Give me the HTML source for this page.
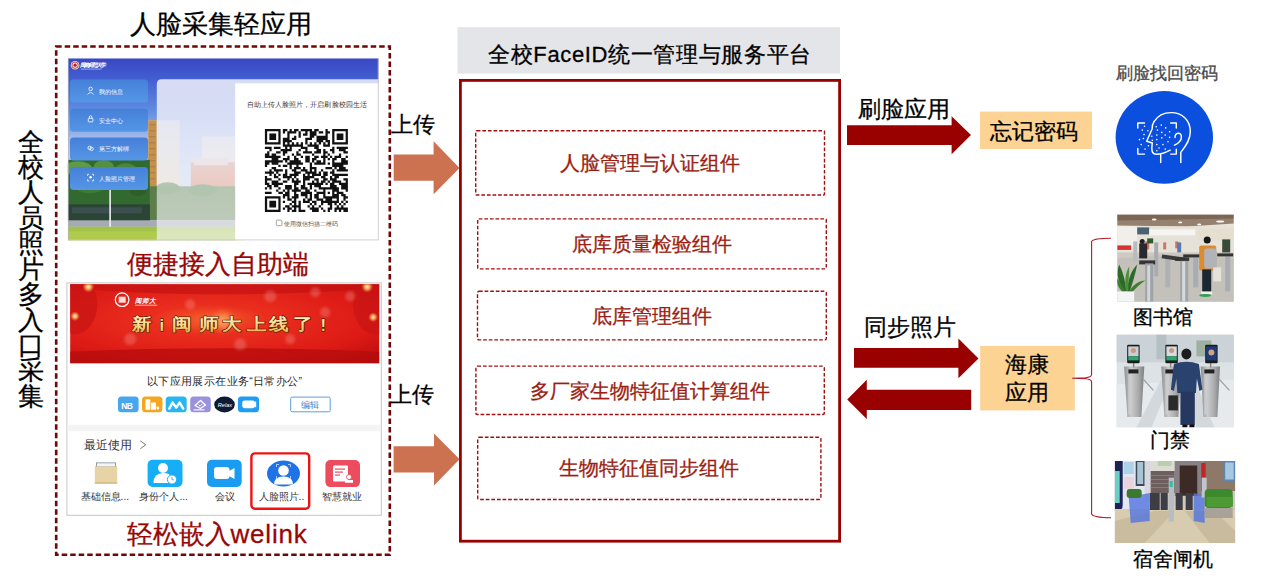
<!DOCTYPE html>
<html><head><meta charset="utf-8">
<style>
*{margin:0;padding:0;box-sizing:border-box}
html,body{width:1280px;height:582px;background:#fff;overflow:hidden}
body{position:relative;font-family:"Liberation Sans",sans-serif;color:#000}
.t{-webkit-text-stroke:0.3px currentColor}
.a{position:absolute}
.t{position:absolute;white-space:nowrap;line-height:1}
.vt span{display:block;height:25.45px;line-height:25.45px;text-align:center}
.comp{color:#9c1d12;font-size:20px}
svg text{font-family:"Liberation Sans",sans-serif}
</style></head><body>
<svg class="a" style="left:0;top:0" width="1280" height="582" viewBox="0 0 1280 582">
<defs>
 <linearGradient id="pbg" x1="0" y1="0" x2="0" y2="1">
  <stop offset="0" stop-color="#3847c3"/><stop offset="0.12" stop-color="#4460d2"/>
  <stop offset="0.28" stop-color="#5f8ae0"/><stop offset="0.45" stop-color="#a7bdee"/>
  <stop offset="0.6" stop-color="#c9d5f3"/><stop offset="1" stop-color="#d8e0f4"/>
 </linearGradient>
 <linearGradient id="pbtn" x1="0" y1="0" x2="0" y2="1">
  <stop offset="0" stop-color="#4580d8"/><stop offset="1" stop-color="#5596e6"/>
 </linearGradient>
 <linearGradient id="ovl" x1="0" y1="0" x2="0" y2="1">
  <stop offset="0" stop-color="#dce0f5" stop-opacity="0.97"/><stop offset="0.3" stop-color="#e8ebf8" stop-opacity="0.85"/><stop offset="0.6" stop-color="#f4f5f8" stop-opacity="0.6"/><stop offset="1" stop-color="#f4f5f8" stop-opacity="0.68"/>
 </linearGradient>
 <filter id="bl" x="-5%" y="-5%" width="110%" height="110%"><feGaussianBlur stdDeviation="0.6"/></filter>
 <linearGradient id="metal" x1="0" y1="0" x2="1" y2="0"><stop offset="0" stop-color="#8e9092"/><stop offset="0.35" stop-color="#c9cbcd"/><stop offset="0.7" stop-color="#a9abad"/><stop offset="1" stop-color="#7e8082"/></linearGradient>
 <filter id="bl3" x="-50%" y="-50%" width="200%" height="200%"><feGaussianBlur stdDeviation="1.6"/></filter>
 <filter id="bl2" x="-5%" y="-5%" width="110%" height="110%"><feGaussianBlur stdDeviation="0.45"/></filter>
 <radialGradient id="ban" cx="0.45" cy="0.45" r="0.75">
  <stop offset="0" stop-color="#f6622c"/><stop offset="0.25" stop-color="#ea2e1e"/><stop offset="0.7" stop-color="#dc1a16"/><stop offset="1" stop-color="#b80c0c"/>
 </radialGradient>
 <radialGradient id="glow">
  <stop offset="0" stop-color="#fff6c0"/><stop offset="0.4" stop-color="#ffd070" stop-opacity="0.8"/><stop offset="1" stop-color="#ff8040" stop-opacity="0"/>
 </radialGradient>
 <linearGradient id="gold" x1="0" y1="0" x2="0" y2="1">
  <stop offset="0" stop-color="#fff6c8"/><stop offset="0.6" stop-color="#f6d77a"/><stop offset="1" stop-color="#d9a640"/>
 </linearGradient>
</defs>

<!-- left dashed box -->
<rect x="56.2" y="46.5" width="333.6" height="508.3" fill="none" stroke="#700606" stroke-width="2.6" stroke-dasharray="5.5 3"/>

<!-- ===== portal screenshot ===== -->
<svg x="67.8" y="58.3" width="311" height="182.2" viewBox="0 0 311 182.2">
 <rect width="311" height="182.2" fill="url(#pbg)"/>
 <g filter="url(#bl)">
 <!-- pink building -->
 <rect x="134" y="78" width="33" height="26" fill="#e4dcd6"/>
 <rect x="123" y="104" width="44" height="48" fill="#dc8870"/>
 <rect x="126" y="100" width="34" height="7" fill="#e8ccc0"/>
 <!-- tall building -->
 <rect x="80.4" y="62" width="31.3" height="80" fill="#e3d7c4"/>
 <rect x="80.4" y="62" width="8.5" height="80" fill="#c4914f"/>
 <g fill="#94683a" opacity="0.55"><rect x="81.5" y="66" width="6" height="1"/><rect x="81.5" y="72" width="6" height="1"/><rect x="81.5" y="78" width="6" height="1"/><rect x="81.5" y="84" width="6" height="1"/><rect x="81.5" y="90" width="6" height="1"/><rect x="81.5" y="96" width="6" height="1"/><rect x="81.5" y="102" width="6" height="1"/><rect x="81.5" y="108" width="6" height="1"/><rect x="81.5" y="114" width="6" height="1"/><rect x="81.5" y="120" width="6" height="1"/></g>
 <!-- palms under overlay -->
 <rect x="80" y="128" width="90" height="34" fill="#5c7e4c"/>
 <ellipse cx="100" cy="130" rx="12" ry="6" fill="#4e7a3c"/>
 <ellipse cx="135" cy="132" rx="14" ry="6" fill="#4e7a3c"/>
 <!-- trees left -->
 <rect x="0" y="101.5" width="82" height="62" fill="#33692f"/>
 <ellipse cx="10" cy="110" rx="14" ry="7" fill="#5f9a45"/>
 <ellipse cx="36" cy="108" rx="10" ry="6" fill="#568f3e"/>
 <ellipse cx="58" cy="113" rx="12" ry="8" fill="#4b853a"/>
 <ellipse cx="22" cy="126" rx="16" ry="9" fill="#3f7a36"/>
 <ellipse cx="70" cy="128" rx="10" ry="10" fill="#2f5e2c"/>
 <rect x="0" y="146" width="82" height="17.5" fill="#2c4434"/>
 <rect x="4" y="149" width="70" height="6" fill="#485a66" opacity="0.55"/>
 <rect x="0" y="162" width="175" height="6.5" fill="#a6abb3"/>
 <rect x="0" y="168.4" width="175" height="14" fill="#a2c346"/>
 <rect x="0" y="173" width="175" height="9" fill="#b8ce52" opacity="0.6"/>
 </g>
 <rect x="41.5" y="131.5" width="1.6" height="37" fill="#eef1f4"/>
 <!-- translucent overlay panel -->
 <rect x="89" y="21" width="240" height="180" rx="4.5" fill="url(#ovl)"/>
 <!-- white card -->
 <rect x="167.4" y="25" width="150" height="160" fill="#fff"/>
 <rect x="310" y="0" width="1" height="182.2" fill="#c8c8c8"/>
 <rect x="0" y="181.2" width="311" height="1" fill="#c8c8c8"/>
 <rect x="0" y="0" width="0.8" height="182.2" fill="#b8b8c0"/>
 <!-- logo -->
 <circle cx="7.3" cy="6.9" r="4.3" fill="#f0e2e2"/>
 <circle cx="7.3" cy="6.9" r="3.2" fill="none" stroke="#b03030" stroke-width="0.8"/>
 <circle cx="7.3" cy="6.9" r="1.6" fill="#a82828"/>
 <text x="12.5" y="8.6" font-size="5.8" fill="#fff" font-style="italic" font-weight="bold" textLength="26">闽南师范大学</text>
 <rect x="13" y="10.4" width="21" height="0.7" fill="#c8d0f0"/>
 <!-- buttons -->
 <g fill="url(#pbtn)">
  <rect x="2.2" y="21.2" width="78" height="23" rx="3.5"/>
  <rect x="2.2" y="50.5" width="78" height="23" rx="3.5"/>
  <rect x="2.2" y="79.2" width="78" height="23" rx="3.5"/>
  <rect x="2.2" y="108.7" width="78" height="23" rx="3.5"/>
 </g>
 <g fill="#fff" font-size="6.2">
  <text x="31.5" y="35.3">我的信息</text>
  <text x="31.5" y="64.4">安全中心</text>
  <text x="31.5" y="93.2">第三方解绑</text>
  <text x="31.5" y="122.4">人脸照片管理</text>
 </g>
 <g fill="none" stroke="#fff" stroke-width="0.8">
  <circle cx="22.8" cy="30.6" r="1.8"/><path d="M19.8 36.2 q3 -4 6 0"/>
  <rect x="20.5" y="60" width="4.6" height="3.6" rx="0.6"/><path d="M21.5 60 v-1.2 a1.3 1.3 0 0 1 2.6 0 v1.2"/>
  <circle cx="21.8" cy="89.6" r="1.7"/><circle cx="23.8" cy="90.6" r="1.7"/>
  <path d="M19.8 117.6 v-1.6 h1.6 M24.2 116 h1.6 v1.6 M25.8 121 v1.6 h-1.6 M21.4 122.6 h-1.6 v-1.6"/>
 </g>
 <circle cx="22.8" cy="119" r="1.2" fill="#fff"/>
 <!-- card text -->
 <text x="179.2" y="49" font-size="7" fill="#333" textLength="119.7">自助上传人脸照片，开启刷脸校园生活</text>
 <g transform="translate(197.1 70.6) scale(2.243)" fill="#111"><path d="M0 0h7v1h-7zM8 0h2v1h-2zM11 0h1v1h-1zM13 0h2v1h-2zM16 0h5v1h-5zM22 0h2v1h-2zM27 0h1v1h-1zM30 0h7v1h-7zM0 1h1v1h-1zM6 1h1v1h-1zM8 1h1v1h-1zM10 1h4v1h-4zM15 1h1v1h-1zM18 1h1v1h-1zM20 1h3v1h-3zM24 1h2v1h-2zM27 1h2v1h-2zM30 1h1v1h-1zM36 1h1v1h-1zM0 2h1v1h-1zM2 2h3v1h-3zM6 2h1v1h-1zM10 2h1v1h-1zM15 2h1v1h-1zM17 2h2v1h-2zM20 2h3v1h-3zM27 2h1v1h-1zM30 2h1v1h-1zM32 2h3v1h-3zM36 2h1v1h-1zM0 3h1v1h-1zM2 3h3v1h-3zM6 3h1v1h-1zM10 3h1v1h-1zM13 3h1v1h-1zM15 3h1v1h-1zM20 3h2v1h-2zM23 3h5v1h-5zM30 3h1v1h-1zM32 3h3v1h-3zM36 3h1v1h-1zM0 4h1v1h-1zM2 4h3v1h-3zM6 4h1v1h-1zM8 4h3v1h-3zM12 4h2v1h-2zM18 4h3v1h-3zM23 4h5v1h-5zM30 4h1v1h-1zM32 4h3v1h-3zM36 4h1v1h-1zM0 5h1v1h-1zM6 5h1v1h-1zM8 5h4v1h-4zM18 5h1v1h-1zM23 5h3v1h-3zM27 5h2v1h-2zM30 5h1v1h-1zM36 5h1v1h-1zM0 6h7v1h-7zM8 6h1v1h-1zM10 6h1v1h-1zM12 6h1v1h-1zM14 6h1v1h-1zM16 6h1v1h-1zM18 6h1v1h-1zM20 6h1v1h-1zM22 6h1v1h-1zM24 6h1v1h-1zM26 6h1v1h-1zM28 6h1v1h-1zM30 6h7v1h-7zM8 7h9v1h-9zM19 7h5v1h-5zM26 7h3v1h-3zM0 8h3v1h-3zM4 8h3v1h-3zM9 8h1v1h-1zM11 8h1v1h-1zM16 8h3v1h-3zM22 8h2v1h-2zM30 8h1v1h-1zM32 8h5v1h-5zM2 9h1v1h-1zM7 9h5v1h-5zM15 9h1v1h-1zM18 9h1v1h-1zM23 9h2v1h-2zM26 9h1v1h-1zM29 9h2v1h-2zM33 9h3v1h-3zM1 10h1v1h-1zM5 10h2v1h-2zM8 10h2v1h-2zM14 10h1v1h-1zM17 10h4v1h-4zM22 10h3v1h-3zM26 10h2v1h-2zM30 10h1v1h-1zM35 10h2v1h-2zM0 11h2v1h-2zM3 11h2v1h-2zM8 11h1v1h-1zM12 11h1v1h-1zM14 11h2v1h-2zM21 11h1v1h-1zM26 11h1v1h-1zM28 11h1v1h-1zM33 11h1v1h-1zM0 12h7v1h-7zM10 12h1v1h-1zM13 12h1v1h-1zM16 12h1v1h-1zM18 12h2v1h-2zM22 12h2v1h-2zM25 12h3v1h-3zM29 12h1v1h-1zM31 12h3v1h-3zM36 12h1v1h-1zM3 13h3v1h-3zM8 13h3v1h-3zM13 13h2v1h-2zM18 13h2v1h-2zM21 13h2v1h-2zM26 13h1v1h-1zM28 13h1v1h-1zM30 13h2v1h-2zM34 13h2v1h-2zM0 14h8v1h-8zM9 14h1v1h-1zM11 14h5v1h-5zM18 14h2v1h-2zM21 14h1v1h-1zM23 14h2v1h-2zM26 14h1v1h-1zM30 14h1v1h-1zM34 14h3v1h-3zM0 15h2v1h-2zM3 15h3v1h-3zM10 15h7v1h-7zM20 15h1v1h-1zM22 15h5v1h-5zM28 15h1v1h-1zM30 15h7v1h-7zM0 16h1v1h-1zM6 16h1v1h-1zM8 16h2v1h-2zM11 16h1v1h-1zM14 16h1v1h-1zM20 16h1v1h-1zM30 16h5v1h-5zM3 17h2v1h-2zM11 17h1v1h-1zM13 17h3v1h-3zM17 17h1v1h-1zM20 17h3v1h-3zM27 17h3v1h-3zM31 17h1v1h-1zM33 17h3v1h-3zM2 18h1v1h-1zM4 18h4v1h-4zM9 18h1v1h-1zM12 18h2v1h-2zM16 18h3v1h-3zM20 18h1v1h-1zM22 18h1v1h-1zM25 18h1v1h-1zM30 18h1v1h-1zM32 18h5v1h-5zM0 19h4v1h-4zM5 19h1v1h-1zM9 19h1v1h-1zM13 19h3v1h-3zM18 19h5v1h-5zM24 19h1v1h-1zM26 19h2v1h-2zM29 19h2v1h-2zM2 20h1v1h-1zM4 20h1v1h-1zM6 20h1v1h-1zM8 20h2v1h-2zM11 20h4v1h-4zM17 20h1v1h-1zM19 20h1v1h-1zM21 20h4v1h-4zM26 20h2v1h-2zM30 20h7v1h-7zM0 21h1v1h-1zM4 21h2v1h-2zM8 21h4v1h-4zM13 21h1v1h-1zM17 21h5v1h-5zM25 21h2v1h-2zM29 21h1v1h-1zM31 21h2v1h-2zM0 22h3v1h-3zM6 22h1v1h-1zM10 22h1v1h-1zM12 22h1v1h-1zM14 22h1v1h-1zM17 22h3v1h-3zM22 22h2v1h-2zM26 22h2v1h-2zM29 22h3v1h-3zM35 22h2v1h-2zM0 23h1v1h-1zM3 23h3v1h-3zM8 23h2v1h-2zM12 23h4v1h-4zM17 23h1v1h-1zM21 23h1v1h-1zM23 23h1v1h-1zM25 23h2v1h-2zM28 23h1v1h-1zM30 23h4v1h-4zM36 23h1v1h-1zM0 24h2v1h-2zM3 24h5v1h-5zM13 24h2v1h-2zM17 24h1v1h-1zM19 24h7v1h-7zM27 24h1v1h-1zM29 24h2v1h-2zM33 24h4v1h-4zM1 25h2v1h-2zM4 25h2v1h-2zM9 25h3v1h-3zM13 25h1v1h-1zM16 25h2v1h-2zM20 25h1v1h-1zM22 25h3v1h-3zM29 25h3v1h-3zM34 25h3v1h-3zM0 26h1v1h-1zM2 26h1v1h-1zM6 26h1v1h-1zM9 26h3v1h-3zM13 26h2v1h-2zM16 26h3v1h-3zM20 26h1v1h-1zM24 26h9v1h-9zM34 26h3v1h-3zM5 27h1v1h-1zM8 27h1v1h-1zM10 27h1v1h-1zM12 27h4v1h-4zM18 27h2v1h-2zM22 27h1v1h-1zM26 27h1v1h-1zM30 27h3v1h-3zM36 27h1v1h-1zM0 28h3v1h-3zM6 28h2v1h-2zM9 28h2v1h-2zM13 28h1v1h-1zM16 28h5v1h-5zM23 28h4v1h-4zM28 28h1v1h-1zM30 28h1v1h-1zM32 28h3v1h-3zM8 29h3v1h-3zM13 29h2v1h-2zM16 29h3v1h-3zM20 29h1v1h-1zM22 29h2v1h-2zM26 29h1v1h-1zM30 29h3v1h-3zM34 29h2v1h-2zM0 30h7v1h-7zM8 30h1v1h-1zM10 30h1v1h-1zM12 30h3v1h-3zM18 30h1v1h-1zM20 30h1v1h-1zM22 30h2v1h-2zM26 30h7v1h-7zM35 30h2v1h-2zM0 31h1v1h-1zM6 31h1v1h-1zM10 31h2v1h-2zM13 31h1v1h-1zM17 31h1v1h-1zM19 31h2v1h-2zM23 31h3v1h-3zM27 31h3v1h-3zM32 31h1v1h-1zM35 31h1v1h-1zM0 32h1v1h-1zM2 32h3v1h-3zM6 32h1v1h-1zM8 32h1v1h-1zM12 32h2v1h-2zM15 32h1v1h-1zM17 32h3v1h-3zM21 32h2v1h-2zM25 32h8v1h-8zM34 32h1v1h-1zM36 32h1v1h-1zM0 33h1v1h-1zM2 33h3v1h-3zM6 33h1v1h-1zM11 33h1v1h-1zM13 33h1v1h-1zM15 33h1v1h-1zM20 33h1v1h-1zM22 33h1v1h-1zM25 33h1v1h-1zM28 33h2v1h-2zM31 33h1v1h-1zM33 33h1v1h-1zM35 33h1v1h-1zM0 34h1v1h-1zM2 34h3v1h-3zM6 34h1v1h-1zM9 34h2v1h-2zM12 34h4v1h-4zM19 34h1v1h-1zM21 34h1v1h-1zM24 34h1v1h-1zM29 34h1v1h-1zM32 34h1v1h-1zM34 34h1v1h-1zM0 35h1v1h-1zM6 35h1v1h-1zM8 35h1v1h-1zM10 35h2v1h-2zM13 35h1v1h-1zM15 35h1v1h-1zM20 35h4v1h-4zM25 35h1v1h-1zM28 35h2v1h-2zM31 35h6v1h-6zM0 36h7v1h-7zM10 36h1v1h-1zM12 36h2v1h-2zM15 36h3v1h-3zM21 36h3v1h-3zM26 36h1v1h-1zM28 36h1v1h-1zM31 36h1v1h-1zM33 36h1v1h-1zM35 36h2v1h-2z"/></g>
 <rect x="208.5" y="161.8" width="5.6" height="5.6" rx="1" fill="none" stroke="#666" stroke-width="0.6"/>
 <text x="216" y="167.4" font-size="5.8" fill="#555">使用微信扫描二维码</text>
</svg>

<!-- ===== welink screenshot ===== -->
<rect x="66.9" y="282.9" width="314.4" height="232.4" fill="#fff" stroke="#c6c6c6" stroke-width="1"/>
<rect x="70.2" y="284.2" width="309" height="79" fill="url(#ban)"/>
<svg x="70.2" y="284.2" width="309" height="79" viewBox="0 0 309 79">
 <ellipse cx="154" cy="-6" rx="190" ry="16" fill="#c01010" opacity="0.6"/>
 <ellipse cx="154" cy="74" rx="200" ry="10" fill="#b40c0c" opacity="0.7"/>
 <ellipse cx="5" cy="20" rx="22" ry="30" fill="#c81414" opacity="0.7"/>
 <ellipse cx="305" cy="20" rx="22" ry="30" fill="#c81414" opacity="0.7"/>
 <circle cx="18.2" cy="2.6" r="6" fill="url(#glow)"/>
 <circle cx="4.8" cy="32" r="5" fill="url(#glow)"/>
 <circle cx="297" cy="2.6" r="6" fill="url(#glow)"/>
 <circle cx="303" cy="33" r="5" fill="url(#glow)"/>
 <circle cx="153" cy="37" r="14" fill="url(#glow)" opacity="0.5"/>
 <g fill="#f8a8a0" opacity="0.3" filter="url(#bl3)">
  <circle cx="200" cy="12" r="6"/><circle cx="245" cy="8" r="5"/><circle cx="255" cy="28" r="5"/><circle cx="280" cy="12" r="5"/>
  <circle cx="120" cy="20" r="5"/><circle cx="170" cy="60" r="6"/><circle cx="220" cy="55" r="5"/><circle cx="60" cy="55" r="6"/>
 </g>
 <circle cx="51.9" cy="15.5" r="6.8" fill="none" stroke="#fff" stroke-width="1.2"/>
 <rect x="48.5" y="12.5" width="7" height="6" fill="#fff" opacity="0.85"/>
 <text x="64.8" y="19" font-size="6.5" fill="#fff" font-style="italic" font-weight="bold">闽师大</text>
 <rect x="65" y="20.5" width="22" height="1" fill="#fff" opacity="0.7"/>
</svg>
<g font-size="16.5" font-weight="900" fill="url(#gold)" stroke="#6a1a04" stroke-width="1.4" stroke-linejoin="round" paint-order="stroke">
 <text x="132.2" y="330.5" transform="translate(132.2 0) scale(1.15 1) translate(-132.2 0)">新</text>
 <text x="159.5" y="330.5">i</text>
 <text x="172.1" y="330.5" transform="translate(172.1 0) scale(1.15 1) translate(-172.1 0)">闽</text>
 <text x="199.2" y="330.5" transform="translate(199.2 0) scale(1.15 1) translate(-199.2 0)">师</text>
 <text x="221.9" y="330.5" transform="translate(221.9 0) scale(1.15 1) translate(-221.9 0)">大</text>
 <text x="246.9" y="330.5" transform="translate(246.9 0) scale(1.15 1) translate(-246.9 0)">上</text>
 <text x="268.8" y="330.5" transform="translate(268.8 0) scale(1.15 1) translate(-268.8 0)">线</text>
 <text x="293.3" y="330.5" transform="translate(293.3 0) scale(1.15 1) translate(-293.3 0)">了</text>
 <text x="320.4" y="330.5">!</text>
</g>
<text x="147" y="385.2" font-size="10.5" fill="#2a2a2a" textLength="155">以下应用展示在业务“日常办公”</text>
<rect x="118" y="396.6" width="20.6" height="15.7" rx="3.5" fill="#46a6ee"/>
<rect x="142" y="396.6" width="20.4" height="15.7" rx="3.5" fill="#f6a51f"/>
<rect x="165.7" y="396.6" width="21" height="15.7" rx="3.5" fill="#27b6f2"/>
<rect x="190.2" y="396.6" width="20.6" height="15.7" rx="3.5" fill="#9a92dc"/>
<ellipse cx="224.5" cy="404.5" rx="10.3" ry="7.9" fill="#0e1a36"/>
<rect x="237.9" y="396.6" width="21.1" height="15.7" rx="3.5" fill="#1e9df2"/>
<g fill="#fff">
 <text x="121.3" y="408.6" font-size="8.5" font-weight="bold" font-family="Liberation Sans" letter-spacing="-0.6">NB</text>
 <rect x="145.5" y="399.3" width="4.8" height="10.5" rx="0.6"/><rect x="151" y="402.5" width="5" height="7.3" rx="0.6"/>
 <rect x="156.5" y="406.5" width="2.6" height="3" rx="1"/>
 <rect x="193.5" y="409.3" width="11" height="1.1"/>
</g>
<path d="M169.3 408.6 L172.6 402.6 L176.2 407.6 L179.6 402.6 L183.2 408.6" fill="none" stroke="#fff" stroke-width="2.4" stroke-linejoin="round" stroke-linecap="round"/>
<path d="M195 405.5 L200.5 400.5 L205.5 405 L200.5 408.5 z" fill="none" stroke="#fff" stroke-width="1.3" stroke-linejoin="round"/>
<path d="M198.5 404.5 l1.6 1.6 l2.6 -2.6" fill="none" stroke="#fff" stroke-width="0.9"/>
<text x="217.8" y="406.6" font-size="5.6" font-style="italic" font-family="Liberation Serif" fill="#fff">Relax</text>
<rect x="242.2" y="400.6" width="12.8" height="7.6" rx="2.4" fill="#fff"/>
<path d="M254 402.2 l2.2 -1 v6.4 l-2.2 -1z" fill="#fff"/>
<rect x="290.7" y="397.1" width="39.5" height="14.7" rx="1.5" fill="#fff" stroke="#5d9fd8" stroke-width="1"/>
<text x="301" y="408" font-size="9.2" fill="#3a86cc">编辑</text>
<rect x="67.4" y="424.7" width="313.4" height="6.5" fill="#f4f4f4"/>
<text x="84.3" y="448.6" font-size="11.5" fill="#333">最近使用</text>
<path d="M140.3 440.8 l5.4 4 l-5.4 4" fill="none" stroke="#666" stroke-width="0.9"/>
<!-- recent icons -->
<rect x="94.8" y="466" width="22.4" height="17.8" fill="#e8d3a6"/>
<rect x="96" y="462.4" width="20" height="4" fill="#8e9ba6"/>
<rect x="97" y="463.3" width="18" height="3" fill="#f4f4f4"/>
<rect x="94.8" y="482" width="22.4" height="1.8" fill="#d9bf8c"/>
<rect x="147.6" y="459.8" width="34.9" height="27.1" rx="5" fill="#16aef6"/>
<circle cx="163" cy="468" r="5" fill="#fff"/>
<path d="M153.5 483 q0 -10 10 -10 q6 0 8 4 l-3 6 z" fill="#fff"/>
<circle cx="172" cy="479.5" r="4.6" fill="#fff" stroke="#16aef6" stroke-width="1"/>
<path d="M172 477 v2.8 h2" fill="none" stroke="#16aef6" stroke-width="0.8"/>
<rect x="207" y="459.8" width="34.7" height="27.1" rx="5" fill="#1b9cf3"/>
<rect x="214" y="467" width="15.5" height="12" rx="3" fill="#fff"/>
<path d="M229 471 l5.5 -3 v11 l-5.5 -3 z" fill="#fff"/>
<ellipse cx="283.5" cy="473.6" rx="16.5" ry="13" fill="#1f73e6"/>
<circle cx="283.5" cy="470.5" r="5.3" fill="#fff"/>
<path d="M274 484.5 q0 -8 9.5 -8 q9.5 0 9.5 8 z" fill="#fff"/>
<path d="M276.5 467 v-2.5 h2.5 M288 464.5 h2.5 v2.5 M290.5 476 v2.5 h-2.5 M279 478.5 h-2.5 v-2.5" fill="none" stroke="#cfe0fb" stroke-width="0.8"/>
<rect x="325.4" y="460" width="34.6" height="27.1" rx="5" fill="#ec4c5d"/>
<rect x="333" y="465.5" width="15" height="16" rx="1" fill="#fff"/>
<g fill="#ec4c5d"><rect x="335" y="468.5" width="10" height="1.2"/><rect x="335" y="471.5" width="8" height="1.2"/><rect x="335" y="474.5" width="5" height="1.2"/></g>
<circle cx="349" cy="477" r="2.5" fill="#fff" stroke="#ec4c5d" stroke-width="0.8"/><rect x="345" y="480" width="8" height="2.8" fill="#fff"/>
<g font-size="10.2" fill="#333">
 <text x="80.6" y="500.2">基础信息...</text>
 <text x="139.4" y="500.2">身份个人...</text>
 <text x="214.7" y="500.2">会议</text>
 <text x="258.6" y="500.2">人脸照片..</text>
 <text x="322.4" y="500.2">智慧就业</text>
</g>
<rect x="251.4" y="453.4" width="57.8" height="55.4" rx="3.5" fill="none" stroke="#ee1414" stroke-width="2.4"/>

<!-- platform gray header -->
<rect x="457.5" y="27.2" width="382.5" height="46.4" fill="#e4e5e9"/>
<!-- platform red box -->
<rect x="460.4" y="80.4" width="379.2" height="460.8" fill="none" stroke="#990000" stroke-width="2.8"/>
<g fill="none" stroke="#a01010" stroke-width="1.4" stroke-dasharray="3.7 1.9">
 <rect x="475.7" y="130.7" width="348.8" height="64.3" rx="1"/>
 <rect x="477.7" y="218.9" width="348.6" height="50" rx="1"/>
 <rect x="477.5" y="291.3" width="348.8" height="48.6" rx="1.5"/>
 <rect x="475.9" y="366.1" width="348.4" height="48.4" rx="1.5"/>
 <rect x="477.7" y="437.3" width="343.2" height="62.2" rx="1.5"/>
</g>
<polygon fill="#cc7251" points="393.7,154.6 433.6,154.6 433.6,141.2 459.5,167.9 433.6,194.2 433.6,180.8 393.7,180.8"/>
<polygon fill="#cc7251" points="393.6,446.3 434,446.3 434,433.5 459.6,459.3 434,485.5 434,472.5 393.6,472.5"/>
<polygon fill="#990000" points="847,125.3 951.6,125.3 951.6,116.3 971,135 951.6,154.2 951.6,144.9 847,144.9"/>
<polygon fill="#990000" points="854,348 958.4,348 958.4,338.4 978.5,358.5 958.4,378.2 958.4,367.7 854,367.7"/>
<polygon fill="#990000" points="971.2,389.8 866.8,389.8 866.8,379.8 847.2,399.4 866.8,419.1 866.8,410 971.2,410"/>
<rect x="980" y="111.6" width="112" height="37.4" fill="#fdd394"/>
<rect x="980.2" y="346" width="94.6" height="64.4" fill="#fdd394"/>
<path d="M1111 238.3 C1100 238.3 1093 238.8 1091.6 241.5 L1091.6 374.6 C1091.6 376.6 1089.5 377.3 1085.5 377.7 L1072.2 378.2 L1085.5 378.7 C1089.5 379.1 1091.6 379.8 1091.6 381.8 L1091.6 514 C1093 517 1100 517.6 1111 517.8" fill="none" stroke="#b01c28" stroke-width="1.1"/>

<!-- blue face circle -->
<ellipse cx="1164.3" cy="137.3" rx="48.7" ry="46.4" fill="#0b4fdf"/>
<g fill="none" stroke="#fff" stroke-width="1.45" stroke-linejoin="round" stroke-linecap="round">
 <path d="M1154 121.7 C1158 115 1165 112.6 1171.3 112.6 C1182 112.6 1190.3 120 1190.3 131.8 C1190.3 140 1186 146 1180.8 152.4 L1180.8 162.5"/>
 <path d="M1154 121.7 C1152.5 124 1152 127 1152.1 129 L1146.7 141.3 L1152.3 143 C1152 146 1151.5 148 1152 150.5 C1152.5 153 1154 154.3 1156.5 154.3 C1161 154.3 1166 152.5 1170.2 150.2"/>
 <path d="M1160.7 154.8 L1160.7 162.5"/>
 <path d="M1175 137.5 C1175 132.5 1181.4 131.5 1181.4 137 C1181.4 141 1178 143.5 1174.5 145.2"/>
 <path d="M1137.8 127.9 V122.9 H1144.5 M1170.7 122.9 H1176.3 V127.9 M1176.3 149.1 V154.1 H1170.7 M1144.5 154.1 H1137.8 V148.5"/>
</g>
<g fill="#fff"><circle cx="1144.5" cy="126.2" r="0.8"/><circle cx="1142.3" cy="130.1" r="0.8"/><circle cx="1147.9" cy="130.7" r="0.8"/><circle cx="1144.0" cy="134.6" r="0.8"/><circle cx="1139.5" cy="139.6" r="0.8"/><circle cx="1143.4" cy="138.5" r="0.8"/><circle cx="1141.2" cy="144.6" r="0.8"/><circle cx="1148.4" cy="145.8" r="0.8"/><circle cx="1145.1" cy="149.1" r="0.8"/><circle cx="1156.2" cy="126.8" r="0.8"/><circle cx="1161.3" cy="125.1" r="0.8"/><circle cx="1165.7" cy="127.9" r="0.8"/><circle cx="1157.4" cy="130.1" r="0.8"/><circle cx="1161.8" cy="132.4" r="0.8"/><circle cx="1169.6" cy="131.8" r="0.8"/><circle cx="1156.8" cy="135.1" r="0.8"/><circle cx="1165.2" cy="135.1" r="0.8"/><circle cx="1161.8" cy="137.9" r="0.8"/><circle cx="1169.6" cy="137.4" r="0.8"/><circle cx="1156.8" cy="139.6" r="0.8"/><circle cx="1152.3" cy="140.2" r="0.8"/><circle cx="1168.0" cy="141.8" r="0.8"/><circle cx="1156.8" cy="144.6" r="0.8"/><circle cx="1162.9" cy="144.6" r="0.8"/><circle cx="1159.0" cy="148.0" r="0.8"/><circle cx="1165.2" cy="149.1" r="0.8"/><circle cx="1156.8" cy="150.8" r="0.8"/><circle cx="1151.8" cy="136.3" r="0.8"/></g>

<!-- ===== photo 1 library ===== -->
<svg x="1117.2" y="214.4" width="116.6" height="87.4" viewBox="0 0 116.6 87.4">
 <rect width="116.6" height="87.4" fill="#d6d1c8"/>
 <g filter="url(#bl2)">
 <rect width="116.6" height="14" fill="#e9e4da"/>
 <path d="M0 0 H116.6 V9 L70 12 L0 11z" fill="#96806e"/>
 <path d="M0 0 H116.6 V4 L0 6z" fill="#7c6656"/>
 <g fill="#fff"><ellipse cx="37" cy="5" rx="2.4" ry="1"/><ellipse cx="63" cy="8" rx="2" ry="0.9"/><ellipse cx="82" cy="10" rx="2" ry="0.9"/><ellipse cx="103" cy="7" rx="4" ry="1"/></g>
 <rect y="12" width="116.6" height="27" fill="#e7e2d8"/>
 <rect x="0" y="12" width="20" height="22" fill="#f1efea"/>
 <rect x="20" y="13" width="12" height="7" fill="#4a6272"/>
 <rect x="32" y="15" width="46" height="6" fill="#f6f4f0"/>
 <rect x="80" y="14" width="36.6" height="12" fill="#e4dfcf"/>
 <rect x="0" y="31" width="14" height="4.5" fill="#d23434"/>
 <g fill="#c04a3a" opacity="0.7"><rect x="28" y="27" width="4" height="8"/><rect x="46" y="28" width="3" height="7"/><rect x="58" y="27" width="3" height="7"/></g>
 <rect x="30" y="24" width="6" height="5" fill="#2e5a2e"/>
 <rect x="105" y="25" width="8" height="14" fill="#3a4a3a"/>
 <rect y="38" width="116.6" height="50" fill="#cdc9c3"/>
 <path d="M0 44 L50 40 L116.6 44 L116.6 87.4 L0 87.4z" fill="#c4c0ba"/>
 <!-- gates -->
 <rect x="16" y="27" width="4" height="20" fill="#b8bcc0"/>
 <rect x="37" y="28" width="4" height="34" fill="#a8acb0"/>
 <rect x="48" y="43" width="5" height="30" fill="#aeb2b6"/>
 <rect x="76" y="43" width="5" height="30" fill="#a8adb2"/>
 <rect x="108" y="42" width="5" height="35" fill="#a8adb2"/>
 <rect x="60" y="28" width="4" height="10" fill="#5a7ab0"/>
 <rect x="45" y="40" width="24" height="4" fill="#3a3a3a" transform="rotate(8 45 40)"/>
 <rect x="66" y="40" width="18" height="3" fill="#333"/>
 <rect x="100" y="39" width="16" height="3" fill="#333"/>
 <rect x="22" y="46" width="16" height="4" fill="#353535"/>
 <rect x="28" y="49" width="8" height="38.4" fill="#9ea3a8"/>
 <rect x="30" y="51" width="3" height="36" fill="#d2d6da"/>
 <rect x="63" y="45" width="8" height="42.4" fill="#a0a5aa"/>
 <rect x="65" y="47" width="3" height="40" fill="#d6dadd"/>
 <rect x="58" y="43" width="14" height="3.5" fill="#353535"/>
 <!-- left person -->
 <rect x="22" y="29" width="8" height="15" fill="#2a2a2e"/>
 <circle cx="25" cy="27" r="2.5" fill="#202020"/>
 <!-- right person -->
 <circle cx="90" cy="25.5" r="3.5" fill="#15181c"/>
 <rect x="82" y="31" width="17" height="25" rx="2" fill="#dc8c2e"/>
 <rect x="87" y="34" width="12.5" height="20" rx="2.5" fill="#b0b4b8"/>
 <rect x="85" y="55" width="9" height="23" fill="#1e2530"/>
 <rect x="84" y="77" width="11" height="3" fill="#f0f0f0"/>
 <ellipse cx="88" cy="81" rx="6" ry="1.5" fill="#30a050"/>
 <rect x="96" y="53" width="8" height="14" fill="#e6e2d8"/>
 <!-- plant -->
 <g fill="#2f6a2a">
  <path d="M8 78 C2 70 -2 60 2 50 C6 58 8 66 9 76z"/>
  <path d="M10 78 C10 66 14 56 20 50 C18 60 15 70 12 78z"/>
  <path d="M11 78 C16 70 22 66 28 66 C22 70 18 74 14 79z" fill="#3c7e32"/>
  <path d="M6 78 C2 74 -1 70 0 64 C3 68 5 72 8 77z" fill="#3c7e32"/>
  <path d="M9 77 C7 68 8 58 12 52 C12 60 11 70 11 77z" fill="#48903a"/>
 </g>
 <rect x="0" y="77" width="17" height="10.4" fill="#f2f4f6"/>
 </g>
</svg>

<!-- ===== photo 2 gates ===== -->
<svg x="1116.4" y="334.4" width="117.7" height="93.2" viewBox="0 0 117.7 93.2">
 <rect width="117.7" height="93.2" fill="#dde2e5"/>
 <g filter="url(#bl2)">
 <rect width="117.7" height="28" fill="#ccd3d8"/>
 <rect x="40" y="0" width="10" height="25" fill="#b5c0c5"/>
 <rect x="80" y="6" width="15" height="16" fill="#9fb0a0"/>
 <path d="M0 50 L117.7 45 L117.7 93.2 L0 93.2z" fill="#e6eaec"/>
 <path d="M20 93 L45 45 L55 45 L35 93z" fill="#d2d8dc"/>
 <path d="M80 93 L70 45 L78 45 L98 93z" fill="#d2d8dc"/>
 <g fill="url(#metal)">
  <path d="M7.7 32 L27.9 32 L25 82.6 L11 82.6z"/>
  <path d="M44.8 32 L65 32 L62 82.6 L48 82.6z"/>
  <path d="M84.3 32 L103.6 32 L101 82.6 L87 82.6z"/>
 </g>
 <g fill="#c9cbcd">
  <rect x="12" y="40" width="3" height="40"/><rect x="49" y="40" width="3" height="40"/><rect x="88" y="40" width="3" height="40"/>
 </g>
 <g fill="#222"><rect x="12" y="35" width="10" height="4"/><rect x="49" y="35" width="10" height="4"/><rect x="88" y="35" width="10" height="4"/></g>
 <g stroke="#9a9c9e" stroke-width="1.2"><line x1="27" y1="45" x2="37" y2="56"/><line x1="103" y1="45" x2="113" y2="56"/></g>
 <g fill="#888"><rect x="16.5" y="28" width="1.5" height="5"/><rect x="53.5" y="28" width="1.5" height="5"/><rect x="93.5" y="28" width="1.5" height="5"/></g>
 <rect x="10.8" y="10.3" width="12.4" height="18.5" rx="1" fill="#1a1a1a"/>
 <rect x="11.8" y="12" width="10.4" height="10" fill="#c8cfd8"/><rect x="11.8" y="22" width="10.4" height="4" fill="#2aa870"/>
 <circle cx="17" cy="16" r="2.5" fill="#c89a78"/>
 <rect x="49" y="10.3" width="12.4" height="18.5" rx="1" fill="#1a1a1a"/>
 <rect x="50" y="12" width="10.4" height="10" fill="#d8dce2"/><rect x="50" y="22" width="10.4" height="4" fill="#2aa870"/>
 <circle cx="55.2" cy="16" r="2.5" fill="#c89a78"/>
 <rect x="88.8" y="10.3" width="12.4" height="18.5" rx="1" fill="#1a1a1a"/>
 <rect x="89.8" y="12" width="10.4" height="14" fill="#1c3a78"/>
 <circle cx="95" cy="18" r="3" fill="#d0a080"/>
 <!-- person -->
 <ellipse cx="70" cy="19.5" rx="5" ry="5.5" fill="#1a1a1e"/>
 <path d="M57.5 29.5 Q70 25 82.5 29.5 L86 55 L83 56.5 L80.5 44 L79.5 58.5 L61 58.5 L60 44 L57.5 56.5 L54.5 55 z" fill="#2c426e"/>
 <rect x="64" y="57.5" width="6.8" height="33" fill="#26395e"/><rect x="70.6" y="57.5" width="7.8" height="33" fill="#26395e"/>
 <rect x="66" y="90" width="5" height="3" fill="#111"/><rect x="73" y="90" width="5" height="3" fill="#111"/>
 <rect x="52" y="61" width="9.5" height="15" fill="#2a2a2a"/>
</g>
</svg>

<!-- ===== photo 3 dorm ===== -->
<svg x="1114.7" y="461" width="120.6" height="82" viewBox="0 0 120.6 82">
 <rect width="120.6" height="82" fill="#cfc8bc"/>
 <g filter="url(#bl2)">
 <rect x="0" y="0" width="36" height="55" fill="#e2e5f2"/>
 <path d="M0 0 H8 V44 Q8 50 2 50 H0z" fill="#1c2456"/>
 <rect x="0" y="10" width="5" height="32" fill="#68cfc4"/>
 <rect x="0" y="50" width="10" height="12" fill="#eef0f6"/>
 <rect x="9" y="1" width="10" height="12" fill="#aed2e6"/>
 <rect x="9" y="16" width="10" height="12" fill="#e8d4dc"/>
 <rect x="21" y="0" width="9" height="25" fill="#3a4a58"/>
 <rect x="22.5" y="1" width="6" height="22" fill="#a8c4d2"/>
 <rect x="30" y="0" width="6" height="40" fill="#d8d8de"/>
 <rect x="36" y="0" width="24" height="10" fill="#dcdcd4"/>
 <rect x="43" y="0" width="14" height="5" fill="#b8d0b0"/>
 <rect x="36" y="10" width="24" height="22" fill="#6e5e5e"/>
 <g fill="#8a7a78"><rect x="36" y="14" width="24" height="1"/><rect x="36" y="18" width="24" height="1"/><rect x="36" y="22" width="24" height="1"/><rect x="36" y="26" width="24" height="1"/></g>
 <rect x="60" y="0" width="28" height="35" fill="#888085"/>
 <rect x="65" y="4.5" width="17.5" height="30" fill="#3a2c28"/>
 <rect x="88" y="0" width="32.6" height="30" fill="#8e7868"/>
 <rect x="86.5" y="2" width="4.5" height="28" fill="#c02828"/>
 <rect x="109" y="0" width="11.6" height="20" fill="#5a88b8"/>
 <rect x="110.5" y="1.5" width="8.5" height="17" fill="#a8c8e0"/>
 <rect x="0" y="48" width="120.6" height="34" fill="#d8ccb0"/>
 <path d="M0 60 L40 50 L60 50 L30 82 L0 82z" fill="#cabd9f"/>
 <path d="M70 50 L100 50 L120.6 70 L120.6 82 L95 82z" fill="#c8bb9e"/>
 <g fill="#3c3c44"><rect x="35" y="32" width="10" height="17"/><rect x="46" y="32" width="7" height="17"/><rect x="61" y="32" width="7" height="17"/><rect x="71" y="32" width="7" height="17"/></g>
 <path d="M14 36 L35 32 L35 60 L16 62z" fill="#5474e0" opacity="0.8"/>
 <path d="M79 32 L90 35 L90 62 L79 60z" fill="#5474e0" opacity="0.8"/>
 <rect x="54" y="16.6" width="5.3" height="44" fill="#b8bcc4"/>
 <rect x="55" y="20" width="3" height="6" fill="#30c0a0"/>
 <rect x="87" y="16.6" width="5" height="20" fill="#c0c4cc"/>
 <rect x="90" y="28" width="28" height="19" rx="4" fill="#3e8a2e"/>
 <rect x="92" y="36" width="26" height="10" fill="#4e9a36"/>
 <rect x="90" y="47" width="28" height="10" fill="#a8a298"/>
 <rect x="12" y="28" width="15" height="9" rx="3" fill="#3a7a2e"/>
</g>
</svg>
</svg>

<!-- ===== texts ===== -->
<div class="t" style="left:130px;top:10.5px;font-size:26px">人脸采集轻应用</div>
<div class="t vt" style="left:17.5px;top:129.5px;width:27px;font-size:26px">
<span>全</span><span>校</span><span>人</span><span>员</span><span>照</span><span>片</span><span>多</span><span>入</span><span>口</span><span>采</span><span>集</span></div>
<div class="t" style="left:126.5px;top:251px;font-size:26px;color:#990606">便捷接入自助端</div>
<div class="t" style="left:126.5px;top:521px;font-size:26px;color:#990606">轻松嵌入<span style="letter-spacing:0.8px">welink</span></div>

<div class="t" style="left:390.5px;top:113.5px;font-size:22.3px">上传</div>
<div class="t" style="left:390px;top:384.2px;font-size:22.3px">上传</div>

<div class="t" style="left:459px;top:43.5px;width:382px;text-align:center;font-size:22px;letter-spacing:0.65px">全校FaceID统一管理与服务平台</div>

<div class="t comp" style="left:475px;top:153px;width:350px;text-align:center">人脸管理与认证组件</div>
<div class="t comp" style="left:477px;top:234px;width:350px;text-align:center">底库质量检验组件</div>
<div class="t comp" style="left:477px;top:306px;width:350px;text-align:center">底库管理组件</div>
<div class="t comp" style="left:475px;top:381px;width:350px;text-align:center">多厂家生物特征值计算组件</div>
<div class="t comp" style="left:477px;top:458px;width:344px;text-align:center">生物特征值同步组件</div>

<div class="t" style="left:858px;top:97.5px;font-size:22.7px">刷脸应用</div>
<div class="t" style="left:990px;top:120.6px;font-size:22px">忘记密码</div>
<div class="t" style="left:1116px;top:66.3px;font-size:16.7px;color:#4a4a4a">刷脸找回密码</div>

<div class="t" style="left:864px;top:316px;font-size:22.7px">同步照片</div>
<div class="t" style="left:1005px;top:350.8px;font-size:22px;line-height:28.4px">海康<br>应用</div>

<div class="t" style="left:1132.5px;top:307.5px;font-size:19.7px">图书馆</div>
<div class="t" style="left:1149.5px;top:431px;font-size:19.7px">门禁</div>
<div class="t" style="left:1132.5px;top:550px;font-size:19.7px">宿舍闸机</div>
</body></html>
